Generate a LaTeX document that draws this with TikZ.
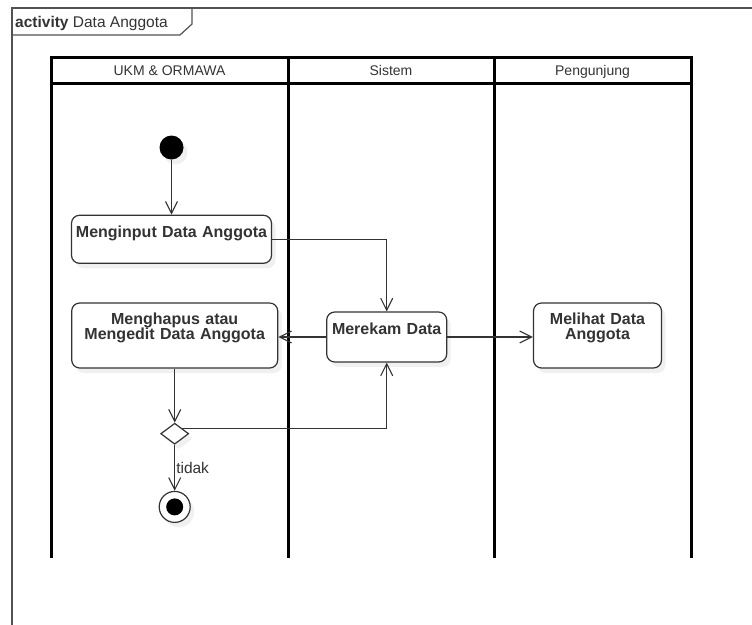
\documentclass[tikz,border=0pt]{standalone}
\usepackage{fontspec}
\setmainfont{Liberation Sans}
\usetikzlibrary{arrows.meta, positioning, shapes.geometric, shadows}
\definecolor{ink}{HTML}{333333}
\tikzstyle{every picture} = [x=1pt, y=-1pt]
\tikzstyle{softshadow} = [drop shadow={shadow xshift=4pt, shadow yshift=-5pt, opacity=0.12}]
\tikzstyle{action} = [rectangle, rounded corners=8pt, draw=ink, line width=1.2pt, fill=white, softshadow, text=ink, font=\fontsize{16}{15.5}\selectfont\bfseries, align=center, inner sep=0pt]
\tikzstyle{flow} = [draw=ink, line width=1.1pt, -{Straight Barb[length=12pt, width=12pt]}]
\tikzstyle{hv} = [to path={-| (\tikztotarget)}]
\tikzstyle{lane} = [line width=3pt, draw=black]
\tikzstyle{lanehead} = [anchor=base, inner sep=0pt, text=ink, font=\fontsize{14}{16}\selectfont]
\tikzstyle{frame} = [line width=1.2pt, draw=ink!85]

\begin{document}
\begin{tikzpicture}
	\useasboundingbox (0,0) rectangle (752,624);
	\clip (0,0) rectangle (752,624);
	% frame
	\draw[frame] (12,640) -- (12,8) -- (760,8);
	\draw[frame] (12,35) -- (180,35) -- (192,24) -- (192,8);
	\node (title) [anchor=base west, inner sep=0pt, text=ink, font=\fontsize{15.5}{18}\selectfont] at (15,27) {\textbf{activity} Data Anggota};
	% lanes
	\draw[lane] (51,57) rectangle (691,83);
	\foreach \x in {51,288,494,691}
		\draw[lane] (\x,57) -- (\x,558);
	\node (lane ukm) [lanehead] at (169.5,75) {UKM \& ORMAWA};
	\node (lane sistem) [lanehead] at (391,75) {Sistem};
	\node (lane pengunjung) [lanehead] at (592.5,75) {Pengunjung};
	% nodes
	\node (node start) [circle, fill=black, minimum size=24pt, inner sep=0pt, softshadow] at (171.5,147.5) {};
	\node (node input) [action, text width=200pt, text height=22pt, text depth=26pt, below=55pt of node start] {Menginput Data Anggota};
	\node (node edit) [action, text width=206pt, text height=21pt, text depth=44pt] at (174.7,335.5) {Menghapus atau\\Mengedit Data Anggota};
	\node (node rekam) [action, text width=120pt, text height=22pt, text depth=28pt] at (386.7,337) {Merekam Data};
	\node (node lihat) [action, text width=128pt, text height=21pt, text depth=44pt] at (597.5,335.5) {Melihat Data\\Anggota};
	\node (node cek) [diamond, draw=ink, line width=1.2pt, fill=white, minimum width=28pt, minimum height=21pt, inner sep=0pt, softshadow, below=54pt of node edit] {};
	\node (node end) [circle, draw=ink, line width=1.2pt, fill=white, minimum size=31pt, inner sep=0pt, softshadow, below=46pt of node cek, path picture={\fill[black] (path picture bounding box.center) circle (8.5pt);}] {};
	% connectors
	\path (node start) edge[flow] (node input);
	\path (node input) edge[flow, hv] (node rekam);
	\path (node rekam.west) edge[flow] (node rekam.west -| node edit.east);
	\path (node rekam.east) edge[flow] (node rekam.east -| node lihat.west);
	\path (node edit) edge[flow] (node cek);
	\path (node cek.north east) edge[flow, hv] (node rekam);
	\path (node cek) edge[flow] node[right, pos=0.5, inner sep=1pt, text=ink, font=\fontsize{15.5}{18}\selectfont] {tidak} (node end);
\end{tikzpicture}
\end{document}
